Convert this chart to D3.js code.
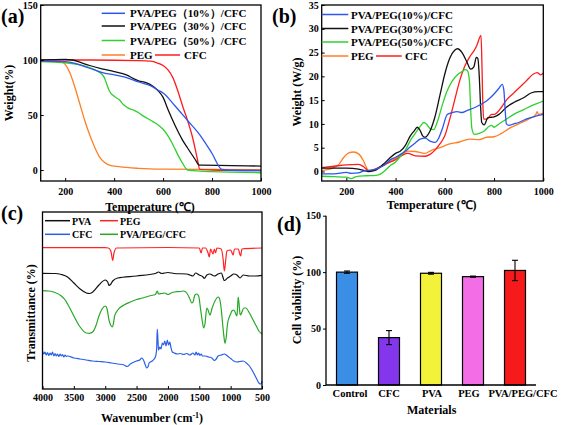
<!DOCTYPE html>
<html><head><meta charset="utf-8">
<script src="https://cdn.jsdelivr.net/npm/d3@7"></script>
<style>
body{margin:0;background:#fff;}
text{font-family:"Liberation Serif","Times New Roman",serif;font-weight:bold;fill:#000;}
</style></head>
<body><svg id="c" width="567" height="425"></svg>
<script>
// ---------- DATA ----------
// (a) TGA: [temperature °C, weight %]
const tga10 = [[100,99],[200,98.5],[240,97],[280,94],[320,91],[360,88],[400,86.5],[450,84],[500,80],[550,76.5],[580,72.5],[600,70],[650,58],[700,45],[750,32],[800,15],[840,0.5],[860,0],[1000,-0.5]];
const tga30 = [[100,100],[200,100.5],[230,100],[260,98],[300,95],[350,92],[400,89.5],[450,86.5],[480,83],[500,81],[530,79.5],[560,76],[580,72],[600,66],[620,55],[650,40],[680,27],[700,20],[730,10],[748,4.5],[760,4.5],[1000,3.5]];
const tga50 = [[100,98.5],[150,98],[200,97.5],[250,96],[300,93],[330,90],[350,87],[360,84],[370,78],[380,72],[400,67],[420,64],[440,59],[460,56],[480,54.5],[500,52],[520,49],[550,45],[580,41],[600,37],[620,31],[640,23],[660,14],[680,6],[700,0],[750,-1],[800,-1.5],[1000,-2.5]];
const tgaPEG = [[100,99.5],[180,99],[200,96],[220,88],[240,75],[260,60],[280,45],[300,32],[320,21],[340,12],[360,7],[380,4.5],[420,3],[500,1.5],[600,0.8],[1000,0.3]];
const tgaCFC = [[100,100],[300,100],[500,99.5],[550,99],[580,97],[600,95],[620,91],[640,84],[660,72],[680,58],[700,45],[720,30],[740,10],[750,0.5],[800,0],[1000,-0.5]];
const tgaXTicks = [200,400,600,800,1000];
const tgaYTicks = [0,50,100,150];

// (b) DSC: [temperature °C, heat flow W/g]
const dsc10 = [[100,-0.5],[150,-0.5],[200,-0.2],[220,-0.4],[250,-0.3],[270,0.1],[300,0.3],[320,0.5],[350,1.2],[380,2.5],[400,3],[420,3.6],[440,4.3],[460,5.2],[480,6],[500,6.8],[520,7],[540,6.4],[560,6.1],[575,7],[590,9],[610,12],[630,12.4],[650,12.6],[670,12.4],[690,12.8],[720,13.4],[760,14.5],[780,15.3],[800,16.3],[820,17.5],[833,18.3],[840,17],[845,13],[850,10],[860,9.7],[880,10],[900,10.3],[930,11],[960,11.5],[1000,12]];
const dsc30 = [[100,0.7],[200,0.7],[250,0.5],[290,0],[320,0.3],[350,1.5],[380,3],[400,3.8],[420,4.3],[440,5.5],[460,7.5],[475,8.5],[488,9.3],[500,8.6],[510,7.5],[520,7.2],[540,8.5],[560,11.5],[580,16],[600,20.5],[620,23.8],[640,25.5],[652,25.8],[670,25],[690,23],[705,21.5],[718,22],[728,24],[734,23.8],[740,20],[745,14],[750,10.3],[760,9.8],[775,11.3],[790,11.4],[800,11.5],[820,12],[850,13.5],[880,14.5],[920,15.5],[950,16.5],[980,16.8],[1000,16.8]];
const dsc50 = [[100,-1],[150,-1.1],[200,-1.2],[220,-1.5],[240,-1.1],[280,-0.9],[320,-0.8],[340,-0.5],[360,0.3],[380,1.3],[400,2],[420,3.2],[440,4.5],[460,6.5],[480,8],[500,9.5],[515,10.3],[525,10],[540,9],[555,8.8],[570,10.5],[590,14],[610,17],[630,19],[650,20.3],[670,21],[683,21.4],[692,21.2],[700,19],[705,13],[710,9],[720,7.8],[740,8],[760,8.5],[780,9.5],[790,9.7],[800,9.3],[820,10],[850,11],[880,12],[920,13],[960,14],[1000,14.8]];
const dscPEG = [[100,0.2],[150,0.8],[170,1.5],[190,3],[210,3.9],[230,4.1],[250,3.7],[270,2.2],[285,0.5],[295,0],[310,0.3],[330,0.8],[360,1.5],[400,2.8],[430,3.7],[450,4.3],[480,4.2],[500,4],[520,3.8],[540,4.3],[580,5],[620,5.8],[660,6.2],[700,6.8],[740,6.7],[770,7.2],[800,7.3],[830,8],[860,9],[900,10],[940,11],[970,12],[975,12.6],[980,12],[1000,12.3]];
const dscCFC = [[100,0.8],[150,1.1],[200,1.4],[250,1.5],[270,1],[290,0.2],[310,0.3],[330,0.8],[360,1.6],[400,2.5],[430,3.5],[450,3.8],[480,3.3],[520,3.2],[540,3.6],[560,4.5],[580,5.8],[600,7.5],[620,11],[640,15],[660,19],[680,22],[700,24],[720,25.5],[730,26.5],[747,28.6],[751,22],[754,15],[758,11],[770,11],[790,12],[800,12],[830,13.5],[850,15],[880,16.5],[900,17.5],[930,19],[960,20.5],[975,20.8],[990,20.3],[1000,20.7]];
const dscXTicks = [200,400,600,800,1000];
const dscYTicks = [0,5,10,15,20,25,30,35];

// (c) FTIR: [wavenumber cm-1, transmittance (a.u., offset)]
const irPEG = [[4000,141.3],[3000,141.3],[2950,141],[2910,138],[2880,128.5],[2860,136],[2820,141],[2000,141.5],[1500,141],[1470,136],[1450,141],[1400,141],[1360,136],[1340,132],[1320,140],[1280,135],[1260,140],[1240,136],[1220,141],[1150,140],[1120,130],[1100,118],[1080,128],[1060,138],[1000,139],[960,134],[940,140],[880,140],[840,133],[820,140],[500,141]];
const irPVA = [[4000,115.7],[3800,115.5],[3700,114.5],[3600,112],[3500,106],[3400,100],[3300,96],[3250,95.5],[3200,97],[3100,104],[3000,109],[2960,107],[2940,103.5],[2910,105],[2880,108],[2800,111],[2500,113],[2200,115.5],[2150,117],[2100,115.5],[2000,116.5],[1900,115.5],[1700,115],[1650,114],[1600,113],[1560,116],[1500,114],[1440,112],[1420,110.5],[1380,114],[1330,115],[1260,113],[1200,115],[1150,116],[1100,108.5],[1050,111],[1000,113],[950,115],[900,114],[850,111],[800,114],[700,113],[600,113],[500,113.7]];
const irMix = [[4000,98.3],[3900,98],[3800,96.5],[3700,93],[3650,90],[3600,85],[3500,73],[3400,62],[3300,56],[3250,55.7],[3200,57],[3150,63],[3100,73],[3050,80],[3000,83],[2970,80],[2940,69],[2910,63.5],[2890,62],[2870,65],[2850,73],[2800,79],[2700,84],[2600,87],[2500,89.5],[2400,91],[2300,93],[2200,94.5],[2170,98],[2150,95],[2100,95.5],[2050,96],[2000,94.5],[1950,96],[1900,97],[1800,97.5],[1750,98],[1700,96],[1650,90],[1620,86],[1600,87],[1570,94],[1540,95],[1510,93],[1480,80],[1450,67],[1430,61],[1410,65],[1380,81],[1360,79],[1330,74],[1300,80],[1250,88],[1200,92],[1180,91],[1150,80],[1120,60],[1100,49],[1090,45.7],[1070,52],[1050,65],[1000,75],[980,78],[950,79],[930,77],[900,73],[890,81],[880,92],[870,88],[850,75],[840,74],[820,77],[790,81],[760,81],[700,76],[650,70],[600,64],[550,58],[500,55]];
const irCFC = [[4000,38],[3980,35],[3960,37],[3940,34],[3920,36.5],[3900,33.5],[3880,36],[3860,34],[3840,37],[3820,33],[3800,35.5],[3780,33],[3760,35],[3740,32.5],[3720,35],[3700,33],[3680,34.5],[3660,32],[3640,34],[3620,32.5],[3600,33],[3500,31],[3400,30],[3300,29],[3200,28],[3100,27.5],[3000,27],[2900,26],[2800,25],[2700,24],[2650,22.5],[2600,25],[2500,28],[2450,29],[2420,31],[2390,29],[2360,24],[2340,21],[2320,22],[2300,26],[2250,28],[2200,32],[2180,40],[2170,60],[2160,50],[2150,39],[2130,42],[2110,40],[2090,46],[2070,44],[2050,48],[2030,43],[2010,49],[1990,44],[1970,47],[1950,41],[1930,37],[1900,36],[1850,35],[1800,35.5],[1750,34.5],[1700,35.5],[1650,34],[1600,36],[1570,34],[1550,37],[1530,34],[1510,36],[1490,33.5],[1470,35],[1450,33],[1400,33],[1350,32],[1300,31],[1260,28.5],[1230,30],[1200,33],[1150,34],[1100,35],[1050,33],[1000,30.5],[950,28],[900,27],[850,27.5],[800,28],[750,26],[700,23],[650,18],[600,12],[560,7],[530,5],[510,5.5],[500,8]];
const irXTicks = [4000,3500,3000,2500,2000,1500,1000,500];

// (d) cell viability
const materials = ["Control","CFC","PVA","PEG","PVA/PEG/CFC"];
const viability = [100,42,99,96,101.5];
const viabilityErr = [1,6.2,0.8,0.5,9];
const barColors = ["#3b8ee6","#8436ec","#f2f23a","#f36ee6","#f61a1a"];
const viaYTicks = [0,50,100,150];

// ---------- DRAW ----------
const svg = d3.select("#c");
const C = {blue:"#2d55f0",black:"#111",green:"#2ed12e",orange:"#ff7f24",red:"#ff1c1c"};
const fmt = d3.format("d");

function frame(x0,y0,x1,y1){
  svg.append("rect").attr("x",x0).attr("y",y0).attr("width",x1-x0).attr("height",y1-y0)
    .attr("fill","none").attr("stroke","#000").attr("stroke-width",1.3);
}
function styleAxis(g,fs){
  g.select(".domain").remove();
  g.selectAll("text").style("font-size",fs+"px").style("font-family","Liberation Serif").style("font-weight","bold");
  g.selectAll("line").attr("stroke","#000");
}
function line(xs,ys,data,color,w){
  svg.append("path").datum(data).attr("fill","none").attr("stroke",color).attr("stroke-width",w||1.3)
    .attr("stroke-linejoin","round")
    .attr("d",d3.line().x(d=>xs(d[0])).y(d=>ys(d[1])).curve(d3.curveMonotoneX));
}
function txt(x,y,s,fs,anchor,rot){
  const t=svg.append("text").attr("x",x).attr("y",y).style("font-size",fs+"px").attr("text-anchor",anchor||"start").text(s);
  if(rot) t.attr("transform",`rotate(${rot},${x},${y})`);
  return t;
}
function legLine(x0,x1,y,color){
  svg.append("line").attr("x1",x0).attr("x2",x1).attr("y1",y).attr("y2",y).attr("stroke",color).attr("stroke-width",1.5);
}

// ----- (a)
const xA = d3.scaleLinear([100,1000],[40.7,261]);
const yA = d3.scaleLinear([-10,150],[181,5]);
svg.append("defs").append("clipPath").attr("id","ca").append("rect").attr("x",40.7).attr("y",5).attr("width",220.3).attr("height",176);
const gA = svg.append("g").attr("clip-path","url(#ca)");
[[tgaPEG,C.orange],[tgaCFC,C.red],[tga50,C.green],[tga30,C.black],[tga10,C.blue]].forEach(([d,c])=>{
  gA.append("path").datum(d).attr("fill","none").attr("stroke",c).attr("stroke-width",1.3)
    .attr("d",d3.line().x(p=>xA(p[0])).y(p=>yA(p[1])).curve(d3.curveMonotoneX));
});
frame(40.7,5,261,181);
svg.append("g").attr("transform","translate(0,181)").call(d3.axisBottom(xA).tickValues(tgaXTicks).tickFormat(fmt).tickSizeInner(-3).tickSizeOuter(0).tickPadding(7)).call(g=>styleAxis(g,10));
svg.append("g").attr("transform","translate(40.7,0)").call(d3.axisLeft(yA).tickValues(tgaYTicks).tickFormat(fmt).tickSizeInner(-3).tickSizeOuter(0).tickPadding(3)).call(g=>styleAxis(g,10));
const legA=[["PVA/PEG（10%）/CFC",C.blue],["PVA/PEG（30%）/CFC",C.black],["PVA/PEG（50%）/CFC",C.green]];
legA.forEach((l,i)=>{const y=[13.3,26,40.5][i]; legLine(101.7,125,y,l[1]); txt(130,y+4,l[0],11);});
legLine(101.7,125,55,C.orange); txt(130,59,"PEG",11);
legLine(155,180,55,C.red); txt(184,59,"CFC",11);
txt(150,211,"Temperature (℃)",12,"middle");
txt(13,93,"Weight(%)",12,"middle",-90);
txt(1,23,"(a)",20);

// ----- (b)
const xB = d3.scaleLinear([100,1000],[321.7,543.3]);
const yB = d3.scaleLinear([-2,35],[181,5]);
[[dscPEG,C.orange],[dscCFC,C.red],[dsc50,C.green],[dsc30,C.black],[dsc10,C.blue]].forEach(([d,c])=>line(xB,yB,d,c,1.3));
frame(321.7,5,543.3,181);
svg.append("g").attr("transform","translate(0,181)").call(d3.axisBottom(xB).tickValues(dscXTicks).tickFormat(fmt).tickSizeInner(-3).tickSizeOuter(0).tickPadding(7)).call(g=>styleAxis(g,10));
svg.append("g").attr("transform","translate(321.7,0)").call(d3.axisLeft(yB).tickValues(dscYTicks).tickFormat(fmt).tickSizeInner(-3).tickSizeOuter(0).tickPadding(3)).call(g=>styleAxis(g,10));
const legB=[["PVA/PEG(10%)/CFC",C.blue],["PVA/PEG(30%)/CFC",C.black],["PVA/PEG(50%)/CFC",C.green]];
legB.forEach((l,i)=>{const y=[14.5,28.5,42][i]; legLine(321.7,348.3,y,l[1]); txt(351,y+4,l[0],11);});
legLine(321.7,348.3,56,C.orange); txt(351,60,"PEG",11);
legLine(376,401.7,56,C.red); txt(405,60,"CFC",11);
txt(431.7,209,"Temperature (℃)",12,"middle");
txt(301,92,"Weight (W/g)",12,"middle",-90);
txt(272,23,"(b)",20);

// ----- (c)
const xC = d3.scaleLinear([4000,500],[42.5,262]);
const yC = d3.scaleLinear([0,177],[389,212]);
const IR = {red:"#ff2424",black:"#111",blue:"#2a5fe8",green:"#27a827"};
[[irPEG,IR.red],[irPVA,IR.black],[irMix,IR.green],[irCFC,IR.blue]].forEach(([d,c])=>line(xC,yC,d,c,1.2));
frame(42.5,212,262,389);
svg.append("g").attr("transform","translate(0,389)").call(d3.axisBottom(xC).tickValues(irXTicks).tickFormat(fmt).tickSizeInner(-3).tickSizeOuter(0).tickPadding(5)).call(g=>styleAxis(g,10));
legLine(45,70,220.7,IR.black); txt(72,224.5,"PVA",10);
legLine(100,118,220.7,IR.red); txt(120,224.5,"PEG",10);
legLine(45,70,234.3,IR.blue); txt(72,238,"CFC",10);
legLine(100,118,234.3,IR.green); txt(120,238,"PVA/PEG/CFC",10);
const wt = txt(152,422,"Wavenumber (cm",12,"middle");
wt.append("tspan").attr("dy",-4).style("font-size","8px").text("-1");
wt.append("tspan").attr("dy",4).text(")");
txt(35,313,"Transmittance (%)",12,"middle",-90);
txt(1,220,"(c)",20);

// ----- (d)
const xD = d3.scaleBand().domain(materials).range([326,536]).paddingInner(0.5).paddingOuter(0.25);
const yD = d3.scaleLinear([0,150],[385,215.7]);
materials.forEach((m,i)=>{
  svg.append("rect").attr("x",xD(m)).attr("y",yD(viability[i])).attr("width",xD.bandwidth())
    .attr("height",yD(0)-yD(viability[i])).attr("fill",barColors[i]).attr("stroke","#000").attr("stroke-width",1.2);
  const cx = xD(m)+xD.bandwidth()/2, t=yD(viability[i]+viabilityErr[i]), b=yD(viability[i]-viabilityErr[i]);
  svg.append("line").attr("x1",cx).attr("x2",cx).attr("y1",t).attr("y2",b).attr("stroke","#000").attr("stroke-width",1.1);
  [t,b].forEach(y=>svg.append("line").attr("x1",cx-3).attr("x2",cx+3).attr("y1",y).attr("y2",y).attr("stroke","#000").attr("stroke-width",1.1));
});
svg.append("line").attr("x1",326).attr("x2",536).attr("y1",385).attr("y2",385).attr("stroke","#000").attr("stroke-width",1.3);
svg.append("line").attr("x1",326).attr("x2",326).attr("y1",215.7).attr("y2",385).attr("stroke","#000").attr("stroke-width",1.3);
svg.append("g").attr("transform","translate(326,0)").call(d3.axisLeft(yD).tickValues(viaYTicks).tickFormat(fmt).tickSizeInner(3).tickSizeOuter(0).tickPadding(2)).call(g=>styleAxis(g,10));
const labShift = [3,0,1,-4,8];
svg.append("g").attr("transform","translate(0,385)").call(d3.axisBottom(xD).tickSize(0).tickPadding(5))
  .call(g=>styleAxis(g,10.5))
  .call(g=>g.selectAll(".tick text").attr("dx",(d,i)=>labShift[i]));
txt(431.7,414,"Materials",12,"middle");
txt(301,300,"Cell viability (%)",12,"middle",-90);
txt(277,231,"(d)",20);
</script></body></html>
